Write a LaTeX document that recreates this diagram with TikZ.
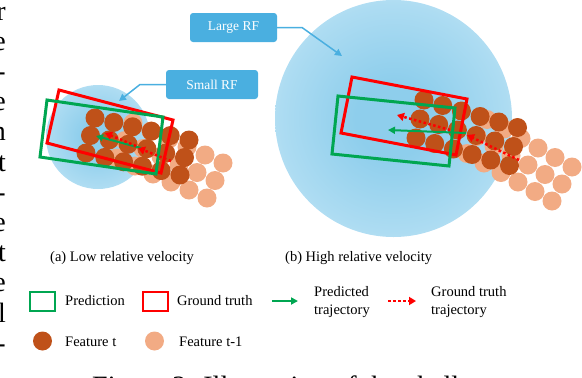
\documentclass[tikz,border=0pt]{standalone}
\usepackage{fontspec}
\setmainfont{Liberation Serif}
\usetikzlibrary{arrows.meta}
\definecolor{predgreen}{HTML}{00A651}
\definecolor{gtred}{HTML}{FF0000}
\definecolor{featdark}{HTML}{BF5119}
\definecolor{featlight}{HTML}{F2AB84}
\definecolor{rfblue}{HTML}{4AAFE0}
\definecolor{rfin}{HTML}{8ECEEC}
\definecolor{rfmid}{HTML}{ADDCF2}
\definecolor{rfout}{HTML}{D6EDF9}
\pgfdeclareradialshading{rfshade}{\pgfpoint{0bp}{0bp}}{color(0bp)=(rfin); color(8bp)=(rfin); color(24bp)=(rfmid); color(35bp)=(rfout); color(50bp)=(rfout)}
\begin{document}
\begin{tikzpicture}[x=1pt,y=-1pt,
  rfbox/.style={rounded corners=3pt, fill=rfblue, text=white, font=\fontsize{13.5}{16}\selectfont, minimum height=29pt, inner sep=0pt},
  rfline/.style={draw=rfblue, line width=1.5pt, -{Triangle[length=7pt,width=7pt]}},
  gtbox/.style={draw=gtred, line width=3pt},
  predbox/.style={draw=predgreen, line width=3pt},
  predarrow/.style={draw=predgreen, line width=2pt, -{Triangle[length=7pt,width=7pt]}},
  gtarrow/.style={draw=gtred, line width=2.5pt, dash pattern=on 2.5pt off 2.5pt, -{Triangle[length=7pt,width=8pt]}},
  lbl/.style={font=\fontsize{14.5}{17.5}\selectfont, inner sep=0pt},
  margintxt/.style={font=\fontsize{28}{30}\selectfont, inner sep=0pt, anchor=base east},
]
\useasboundingbox (0,0) rectangle (582,378);
\clip (0,0) rectangle (582,378);

% margin text of the neighbouring column
\foreach \ch [count=\k from 0] in {r,e,-,e,n,t,-,e,t,e,l,-}
  \node[margintxt] (m\k) at (6,{20+30.2*\k}) {\ch};

% receptive fields
\shade[shading=rfshade] (98,137) circle[radius=52pt];
\shade[shading=rfshade] (393.5,118.5) circle[radius=118.5pt];

% left cluster: features
\foreach \r in {0,1,2} \foreach \c in {0,...,5}
  \fill[featlight] ({133+18*\c-8*\r},{123+8*\c+17.5*\r}) circle[radius=9.5pt];
\foreach \r in {0,1,2} \foreach \c in {0,...,5}
  \fill[featdark] ({95+18.8*\c-4.5*\r},{118+4.4*\c+17.5*\r}) circle[radius=9.5pt];

% right cluster: features
\foreach \r in {0,1,2} \foreach \c in {0,...,5}
  \fill[featlight] ({487+17*\c-10*\r},{119.5+9.5*\c+17*\r}) circle[radius=9.5pt];
\foreach \r in {0,1,2} \foreach \c in {0,...,5}
  \fill[featdark] ({424+18.7*\c-4*\r},{100+5.5*\c+19*\r}) circle[radius=9.5pt];

% left boxes
\draw[gtbox] (59,90) -- (173,120) -- (161,173) -- (47,143) -- cycle;
\draw[predbox] (47,100) -- (163,117) -- (156,174) -- (40,157) -- cycle;
% right boxes
\draw[gtbox] (352,77) -- (467,99) -- (456,155) -- (341,133) -- cycle;
\draw[predbox] (338,96) -- (455,108) -- (449,166) -- (332,154) -- cycle;

% left trajectories
\coordinate (la1) at (171,161);
\coordinate (la2) at (138,148);
\coordinate (la3) at (105,133);
\coordinate (lp1) at (141,148);
\coordinate (lp2) at (96,136);
\draw[predarrow] (lp1) -- (lp2);
\draw[gtarrow] (la1) -- (la2);
\draw[gtarrow] (136,146) -- (la3);

% right trajectories
\coordinate (ra1) at (519,160);
\coordinate (ra2) at (467,135);
\coordinate (ra3) at (397,115);
\coordinate (rp1) at (466,133);
\coordinate (rp2) at (388,130);
\draw[predarrow] (rp1) -- (rp2);
\draw[gtarrow] (ra1) -- (ra2);
\draw[gtarrow] (450,130) -- (ra3);

% RF labels
\node[rfbox, minimum width=87pt] (large) at (233.5,27.5) {Large RF};
\node[rfbox, minimum width=92pt] (small) at (212,84.5) {Small RF};
\coordinate (lbend) at (302,27.5);
\coordinate (ltip) at (342,56);
\coordinate (sbend) at (140,84.5);
\coordinate (stip) at (119,101);
\draw[rfline] (large.east) -- (lbend) -- (ltip);
\draw[rfline] (small.west) -- (sbend) -- (stip);

% sub-captions
\node[lbl, anchor=base west] (capa) at (50,261) {(a) Low relative velocity};
\node[lbl, anchor=base west] (capb) at (285,261) {(b) High relative velocity};

% legend
\node[draw=predgreen, line width=2.5pt, minimum width=25pt, minimum height=19pt, inner sep=0pt] (legpred) at (42.5,301.5) {};
\node[lbl, anchor=base west] (legpredtxt) at (65,305) {Prediction};
\node[draw=gtred, line width=2.5pt, minimum width=25pt, minimum height=19pt, inner sep=0pt] (leggt) at (155.5,301.5) {};
\node[lbl, anchor=base west] (leggttxt) at (177,305) {Ground truth};
\coordinate (lpa) at (272,301);
\coordinate (lpb) at (298,301);
\draw[predarrow] (lpa) -- (lpb);
\node[lbl, anchor=west, align=left] (legptraj) at (314,302) {Predicted\\trajectory};
\coordinate (lga) at (388,301);
\coordinate (lgb) at (416,301);
\draw[gtarrow] (lga) -- (lgb);
\node[lbl, anchor=west, align=left] (leggtraj) at (431,302) {Ground truth\\trajectory};
\fill[featdark] (42.5,341) circle[radius=9.5pt];
\node[lbl, anchor=base west] (legft) at (65,346) {Feature t};
\fill[featlight] (154.5,341) circle[radius=9.5pt];
\node[lbl, anchor=base west] (legft1) at (179,346) {Feature t-1};

% cut-off figure caption
\node[font=\fontsize{28}{30}\selectfont, inner sep=0pt, anchor=base west] (figcap) at (92,395) {Figure 2: Illustration of the challenge};
\end{tikzpicture}
\end{document}
